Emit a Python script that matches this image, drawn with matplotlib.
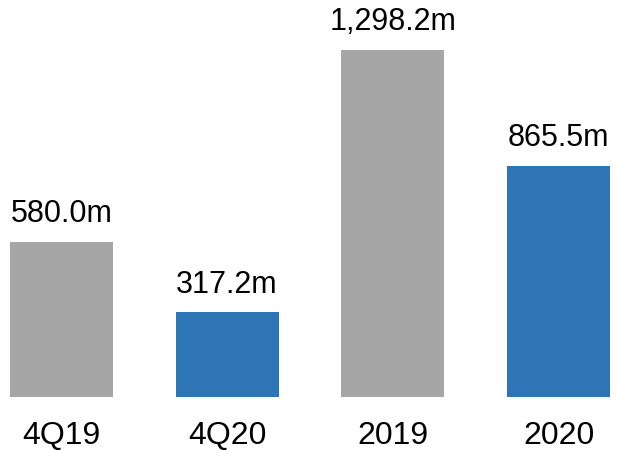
import matplotlib.pyplot as plt

# revenue by period
periods = ["4Q19", "4Q20", "2019", "2020"]
values = [580.0, 317.2, 1298.2, 865.5]
colors = ["#A6A6A6", "#2E75B6", "#A6A6A6", "#2E75B6"]

plt.rcParams["font.family"] = ["Liberation Sans", "DejaVu Sans"]

fig = plt.figure(figsize=(6.18, 4.5), dpi=100)
ax = fig.add_axes([10 / 618, 53 / 450, 600 / 618, 347 / 450])

bars = ax.bar(range(len(periods)), values, width=0.62, color=colors)
ax.set_xlim(-0.31, len(periods) - 1 + 0.31)
ax.set_ylim(0, max(values))

for bar, v in zip(bars, values):
    ax.annotate(f"{v:,.1f}m", (bar.get_x() + bar.get_width() / 2, v),
                xytext=(0, 9), textcoords="offset points",
                ha="center", va="bottom", fontsize=22, annotation_clip=False)

ax.set_xticks(range(len(periods)))
ax.set_xticklabels(periods, fontsize=23)
ax.tick_params(axis="x", length=0, pad=17)
ax.set_yticks([])
for s in ax.spines.values():
    s.set_visible(False)

fig.savefig("out.png", dpi=100)
